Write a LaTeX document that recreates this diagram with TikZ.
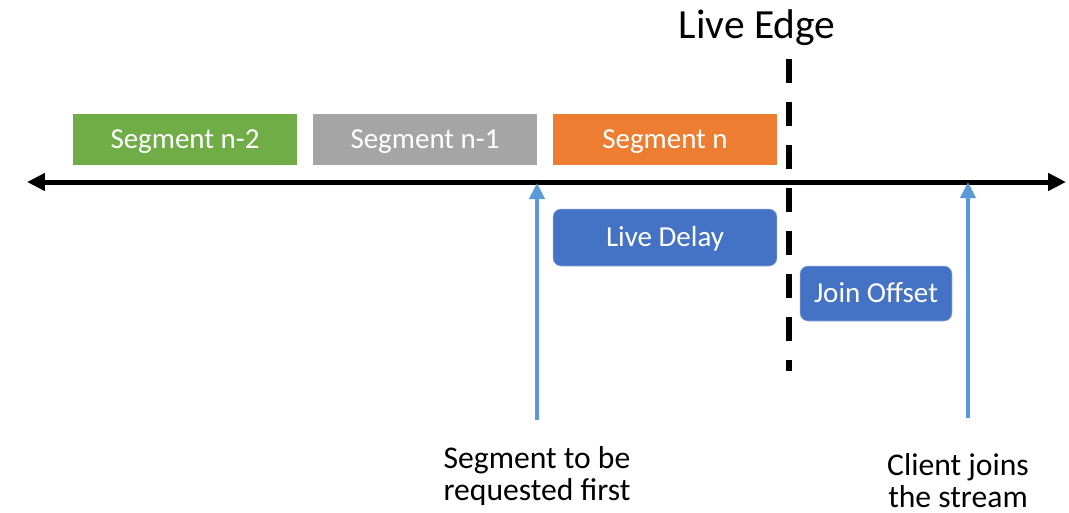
\documentclass[tikz,border=0pt]{standalone}
\usepackage{fontspec}
\setmainfont{Carlito}
\usepackage{tikz}
\usetikzlibrary{arrows.meta,positioning}

\definecolor{segGreen}{HTML}{70AD47}
\definecolor{segGray}{HTML}{A5A5A5}
\definecolor{segOrange}{HTML}{ED7D31}
\definecolor{boxBlue}{HTML}{4472C4}
\definecolor{ptrBlue}{HTML}{5B9BD5}

\begin{document}
\begin{tikzpicture}[x=0.02cm, y=-0.02cm,
  seg/.style={rectangle, minimum width=4.48cm, minimum height=1.02cm, inner sep=0pt,
    text height=10.6pt, text depth=0pt, text=white, font=\fontsize{16.5}{20}\selectfont},
  tag/.style={rectangle, rounded corners=0.16cm, fill=boxBlue, draw=boxBlue!60!white, line width=0.3pt,
    inner sep=0pt, text height=10.6pt, text depth=0pt, text=white, font=\fontsize{16.5}{20}\selectfont},
  note/.style={align=center, inner sep=0pt, font=\fontsize{18}{18.2pt}\selectfont},
  ptr/.style={-{Triangle[length=0.32cm, width=0.3cm]}, line width=0.08cm, ptrBlue}]

  \useasboundingbox (0,0) rectangle (1069,512);

  % Segments above the time line
  \node[seg, fill=segGreen] (segA) at (185,139.5) {Segment n-2};
  \node[seg, fill=segGray] (segB) at (425,139.5) {Segment n-1};
  \node[seg, fill=segOrange] (segC) at (665,139.5) {Segment n};

  % Time line
  \coordinate (axL) at (27,182);
  \coordinate (axR) at (1066,182);
  \draw[{Triangle[length=0.36cm, width=0.34cm]}-{Triangle[length=0.36cm, width=0.34cm]}, line width=0.1cm]
    (axL) -- (axR);

  % Live edge marker
  \node[font=\fontsize{23.6}{28}\selectfont, inner sep=0pt, text height=15.2pt, text depth=0pt] (edge) at (757,25) {Live Edge};
  \coordinate (edgeTop) at (789,59);
  \coordinate (edgeBot) at (789,371);
  \draw[line width=0.12cm, dash pattern=on 0.48cm off 0.38cm] (edgeTop) -- (edgeBot);

  % Offsets
  \node[tag, minimum width=4.48cm, minimum height=1.14cm] (delay) at (665,237.5) {Live Delay};
  \node[tag, minimum width=3.04cm, minimum height=1.1cm] (join) at (876,293.5) {Join Offset};

  % Pointers and their notes
  \node[note] (first) at (537,476) {Segment to be\\requested first};
  \node[note] (client) at (958,481) {Client joins\\the stream};
  \coordinate (firstTail) at (537,420);
  \coordinate (firstTip) at (537,183);
  \coordinate (clientTail) at (968,418);
  \coordinate (clientTip) at (968,182);
  \draw[ptr] (firstTail) -- (firstTip);
  \draw[ptr] (clientTail) -- (clientTip);
\end{tikzpicture}
\end{document}
